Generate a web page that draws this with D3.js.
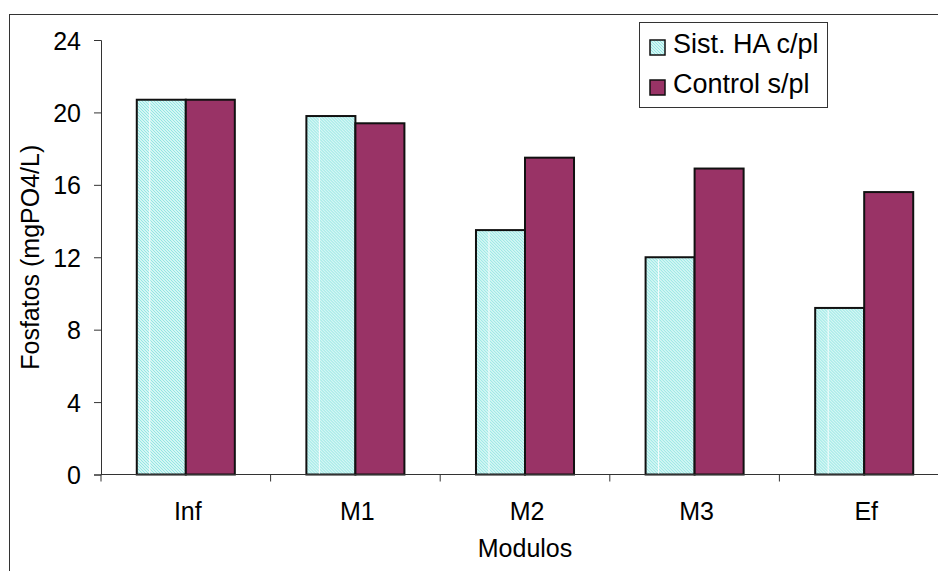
<!DOCTYPE html>
<html>
<head>
<meta charset="utf-8">
<script src="https://cdn.jsdelivr.net/npm/d3@7"></script>
<style>
  html, body { margin: 0; padding: 0; background: #fff; }
  svg { display: block; }
  text { font-family: "Liberation Sans", Arial, sans-serif; fill: #000; }
</style>
</head>
<body>
<script>
// Phosphate concentration per module, with and without plants
const categories = ["Inf", "M1", "M2", "M3", "Ef"];
const seriesNames = ["Sist. HA c/pl", "Control s/pl"];
const sistHA = [20.7, 19.8, 13.5, 12.0, 9.2];
const control = [20.7, 19.4, 17.5, 16.9, 15.6];
const yTicks = [0, 4, 8, 12, 16, 20, 24];
const yTitle = "Fosfatos (mgPO4/L)";
const xTitle = "Modulos";

const W = 938, H = 571;
const svg = d3.select("body").append("svg").attr("width", W).attr("height", H);

// hatch fill for the planted-system series
const defs = svg.append("defs");
const pat = defs.append("pattern")
  .attr("id", "hatch").attr("patternUnits", "userSpaceOnUse")
  .attr("width", 3).attr("height", 3);
pat.append("rect").attr("width", 3).attr("height", 3).attr("fill", "#effdfc");
pat.append("path")
  .attr("d", "M0,0 L3,3 M-1,2 L1,4 M2,-1 L4,1")
  .attr("stroke", "#8fe5e2").attr("stroke-width", 1.1);

// outer chart frame (extends past the right/bottom edges)
svg.append("rect")
  .attr("x", 9.5).attr("y", 14.5).attr("width", 1000).attr("height", 600)
  .attr("fill", "none").attr("stroke", "#333").attr("stroke-width", 1);

const x = d3.scaleBand().domain(categories).range([101, 949]).padding(0);
const xs = d3.scaleBand().domain(seriesNames).range([0, x.bandwidth()])
  .paddingInner(0).paddingOuter(0.73);
const y = d3.scaleLinear().domain([0, 24]).range([474.5, 40]);

const fills = { "Sist. HA c/pl": "url(#hatch)", "Control s/pl": "#993366" };
const rows = categories.map((c, i) => ({ cat: c, vals: [
  { s: seriesNames[0], v: sistHA[i] },
  { s: seriesNames[1], v: control[i] }
]}));

const groups = svg.append("g").selectAll("g").data(rows).join("g")
  .attr("transform", d => `translate(${x(d.cat)},0)`);

groups.selectAll("rect").data(d => d.vals).join("rect")
  .attr("x", d => xs(d.s))
  .attr("y", d => y(d.v))
  .attr("width", xs.bandwidth())
  .attr("height", d => y(0) - y(d.v))
  .attr("fill", d => fills[d.s])
  .attr("stroke", "#111").attr("stroke-width", 2);

// thin light seam inside the hatched bars
groups.append("line")
  .attr("x1", d => xs(seriesNames[0]) + 13).attr("x2", d => xs(seriesNames[0]) + 13)
  .attr("y1", d => y(d.vals[0].v) + 2).attr("y2", y(0) - 1)
  .attr("stroke", "#fff").attr("stroke-width", 1).attr("opacity", 0.9);

// y axis
const yAxis = svg.append("g").attr("transform", "translate(101,0)")
  .call(d3.axisLeft(y).tickValues(yTicks).tickSize(7).tickPadding(13));
yAxis.select(".domain").attr("stroke", "#333");
yAxis.selectAll(".tick line").attr("stroke", "#333");
yAxis.selectAll("text")
  .style("font-family", "'Liberation Sans', Arial, sans-serif")
  .style("font-size", "25px").attr("fill", "#000").attr("dy", "0.36em");

// x axis: ticks at category boundaries
const xAxisG = svg.append("g").attr("transform", `translate(0,${y(0)})`);
xAxisG.append("line").attr("x1", 101).attr("x2", 949)
  .attr("stroke", "#333").attr("stroke-width", 1);
const bounds = categories.map(c => x(c)).concat([x(categories[categories.length - 1]) + x.bandwidth()]);
xAxisG.selectAll("line.tk").data(bounds).join("line").attr("class", "tk")
  .attr("x1", d => d).attr("x2", d => d).attr("y1", 0).attr("y2", 7)
  .attr("stroke", "#333");
xAxisG.selectAll("text").data(categories).join("text")
  .attr("x", d => x(d) + x.bandwidth() / 2 + 2)
  .attr("y", 45)
  .attr("text-anchor", "middle")
  .style("font-size", "25px")
  .text(d => d);

// axis titles
svg.append("text")
  .attr("transform", `translate(39,${(y(0) + y(24)) / 2}) rotate(-90)`)
  .attr("text-anchor", "middle").style("font-size", "25px")
  .text(yTitle);
svg.append("text")
  .attr("x", 525).attr("y", 557).attr("text-anchor", "middle")
  .style("font-size", "25px").text(xTitle);

// legend
const lg = svg.append("g");
lg.append("rect").attr("x", 639.5).attr("y", 22.5).attr("width", 188).attr("height", 85)
  .attr("fill", "#fff").attr("stroke", "#333").attr("stroke-width", 1);
const li = lg.selectAll("g").data(seriesNames).join("g")
  .attr("transform", (d, i) => `translate(650,${40 + i * 40})`);
li.append("rect").attr("width", 15).attr("height", 15)
  .attr("fill", d => fills[d]).attr("stroke", "#111").attr("stroke-width", 1.5);
li.append("text").attr("x", 23).attr("y", 13)
  .style("font-size", "27px").text(d => d);
</script>
</body>
</html>
